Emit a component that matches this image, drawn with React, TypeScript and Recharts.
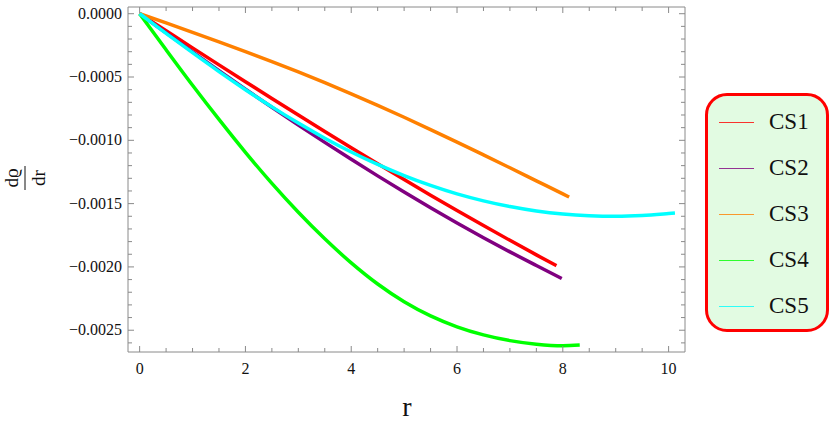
import { LineChart, Line, XAxis, YAxis, Legend } from 'recharts';

// r values and d(rho)/dr values
const cs1R = [0, 0.5, 1, 1.5, 2, 2.5, 3, 3.5, 4, 4.5, 5, 5.5, 6, 6.5, 7, 7.5, 7.88];
const cs1Values = [0, -0.000135, -0.00027, -0.000404, -0.000537, -0.000669, -0.0008, -0.00093, -0.001058, -0.001185, -0.00131, -0.001433, -0.001554, -0.001673, -0.00179, -0.001905, -0.00199];

const cs2R = [0, 0.5, 1, 1.5, 2, 2.5, 3, 3.5, 4, 4.5, 5, 5.5, 6, 6.5, 7, 7.5, 7.98];
const cs2Values = [0, -0.000152, -0.000302, -0.00045, -0.000596, -0.000739, -0.000879, -0.001016, -0.00115, -0.001281, -0.001409, -0.001533, -0.001653, -0.001769, -0.001881, -0.001989, -0.002091];

const cs3R = [0, 0.5, 1, 1.5, 2, 2.5, 3, 3.5, 4, 4.5, 5, 5.5, 6, 6.5, 7, 7.5, 8, 8.12];
const cs3Values = [0, -0.000073, -0.000147, -0.000222, -0.000299, -0.000378, -0.00046, -0.000545, -0.000633, -0.000724, -0.000818, -0.000915, -0.001014, -0.001115, -0.001217, -0.00132, -0.001423, -0.001448];

const cs4R = [0, 0.5, 1, 1.5, 2, 2.5, 3, 3.5, 4, 4.5, 5, 5.5, 6, 6.5, 7, 7.5, 8, 8.32];
const cs4Values = [0, -0.000285, -0.000565, -0.000835, -0.001095, -0.00134, -0.001568, -0.001778, -0.001968, -0.002135, -0.002275, -0.002387, -0.002473, -0.002537, -0.002582, -0.00261, -0.002622, -0.002617];

const cs5R = [0, 0.5, 1, 1.5, 2, 2.5, 3, 3.5, 4, 4.5, 5, 5.5, 6, 6.5, 7, 7.5, 8, 8.5, 9, 9.5, 10, 10.12];
const cs5Values = [0, -0.000155, -0.000308, -0.000457, -0.0006, -0.000736, -0.000864, -0.000983, -0.001092, -0.00119, -0.001278, -0.001356, -0.001423, -0.001478, -0.001523, -0.001558, -0.001582, -0.001595, -0.001599, -0.001593, -0.001578, -0.001574];

const seriesNames = ['CS1', 'CS2', 'CS3', 'CS4', 'CS5'];
const seriesColors = ['#ff0000', '#800080', '#ff8000', '#00ff00', '#00ffff'];

const xMajorTicks = [0, 2, 4, 6, 8, 10];
const yMajorTicks = [0, -0.0005, -0.001, -0.0015, -0.002, -0.0025];
const xMajorLabels = ['0', '2', '4', '6', '8', '10'];
const yMajorLabels = ['0.0000', '\u22120.0005', '\u22120.0010', '\u22120.0015', '\u22120.0020', '\u22120.0025'];

// minor ticks every 0.5 on r and every 0.0001 on the derivative
const xTicks = Array.from({ length: 21 }, (_, i) => i * 0.5);
const yTicks = Array.from({ length: 27 }, (_, i) => -i * 0.0001);

const toPoints = (r: number[], v: number[]) => r.map((x, i) => ({ r: x, v: v[i] }));
const seriesData = [
  toPoints(cs1R, cs1Values),
  toPoints(cs2R, cs2Values),
  toPoints(cs3R, cs3Values),
  toPoints(cs4R, cs4Values),
  toPoints(cs5R, cs5Values),
];

const FONT = 'Liberation Serif, Times New Roman, DejaVu Serif, serif';
const FRAME = '#8a8a8a';

const isMajor = (value: number, majors: number[]) => majors.findIndex((m) => Math.abs(m - value) < 1e-9);

function makeXTick(side: 'bottom' | 'top') {
  return (props: any) => {
    const { x, y, payload } = props;
    const idx = isMajor(payload.value, xMajorTicks);
    const len = idx >= 0 ? 6 : 4;
    const dir = side === 'bottom' ? -1 : 1;
    return (
      <g>
        <line x1={x} y1={y} x2={x} y2={y + dir * len} stroke={FRAME} strokeWidth={1} />
        {side === 'bottom' && idx >= 0 && (
          <text x={x} y={y + 22} textAnchor="middle" style={{ fontSize: 16, fontFamily: FONT }} fill="#111">
            {xMajorLabels[idx]}
          </text>
        )}
      </g>
    );
  };
}

function makeYTick(side: 'left' | 'right') {
  return (props: any) => {
    const { x, y, payload } = props;
    const idx = isMajor(payload.value, yMajorTicks);
    const len = idx >= 0 ? 6 : 4;
    const dir = side === 'left' ? 1 : -1;
    return (
      <g>
        <line x1={x} y1={y} x2={x + dir * len} y2={y} stroke={FRAME} strokeWidth={1} />
        {side === 'left' && idx >= 0 && (
          <text x={x - 6} y={y + 5} textAnchor="end" style={{ fontSize: 16, fontFamily: FONT }} fill="#111">
            {yMajorLabels[idx]}
          </text>
        )}
      </g>
    );
  };
}

function YLabel() {
  return (
    <g transform="translate(25,178) rotate(-90)" fill="#111">
      <text x={0} y={-7} textAnchor="middle" style={{ fontSize: 19, fontFamily: FONT }}>
        d&#x03F1;
      </text>
      <line x1={-12} y1={0} x2={12} y2={0} stroke="#111" strokeWidth={1} />
      <text x={0} y={20} textAnchor="middle" style={{ fontSize: 19, fontFamily: FONT }}>
        dr
      </text>
    </g>
  );
}

function XLabel() {
  return (
    <text x={407} y={416} textAnchor="middle" fill="#111" style={{ fontSize: 28, fontFamily: FONT }}>
      r
    </text>
  );
}

function LegendBox() {
  return (
    <div
      style={{
        boxSizing: 'border-box',
        width: 124,
        height: 239,
        border: '3px solid #ff0000',
        borderRadius: 22,
        background: '#e2fbe2',
        position: 'relative',
        fontFamily: FONT,
      }}
    >
      {seriesNames.map((name, i) => (
        <div
          key={name}
          style={{ position: 'absolute', left: 11, top: 11 + i * 46, height: 30, display: 'flex', alignItems: 'center' }}
        >
          <div style={{ width: 35, height: 1, background: seriesColors[i], opacity: 0.8 }} />
          <span style={{ marginLeft: 15, fontSize: 23, color: '#111', fontFamily: FONT }}>{name}</span>
        </div>
      ))}
    </div>
  );
}

export default function App() {
  return (
    <div style={{ position: 'absolute', left: 0, top: 0, width: 830, height: 426, background: 'white', fontFamily: FONT }}>
      <LineChart width={830} height={426} margin={{ top: 6, right: 144, bottom: 73, left: 127 }}>
        <XAxis
          xAxisId="bottom"
          dataKey="r"
          type="number"
          domain={[-0.22, 10.31]}
          ticks={xTicks}
          interval={0}
          height={1}
          tickSize={0}
          tickMargin={0}
          axisLine={{ stroke: FRAME }}
          tickLine={false}
          tick={makeXTick('bottom')}
          allowDataOverflow
          label={{ content: () => <XLabel /> }}
        />
        <XAxis
          xAxisId="top"
          orientation="top"
          dataKey="r"
          type="number"
          domain={[-0.22, 10.31]}
          ticks={xTicks}
          interval={0}
          height={1}
          tickSize={0}
          tickMargin={0}
          axisLine={{ stroke: FRAME }}
          tickLine={false}
          tick={makeXTick('top')}
          allowDataOverflow
        />
        <YAxis
          yAxisId="left"
          type="number"
          domain={[-0.002672, 0.000053]}
          ticks={yTicks}
          interval={0}
          width={1}
          tickSize={0}
          tickMargin={0}
          axisLine={{ stroke: FRAME }}
          tickLine={false}
          tick={makeYTick('left')}
          allowDataOverflow
          label={{ content: () => <YLabel /> }}
        />
        <YAxis
          yAxisId="right"
          orientation="right"
          type="number"
          domain={[-0.002672, 0.000053]}
          ticks={yTicks}
          interval={0}
          width={1}
          tickSize={0}
          tickMargin={0}
          axisLine={{ stroke: FRAME }}
          tickLine={false}
          tick={makeYTick('right')}
          allowDataOverflow
        />
        {seriesData.map((d, i) => (
          <Line
            key={seriesNames[i]}
            xAxisId="bottom"
            yAxisId="left"
            data={d}
            dataKey="v"
            name={seriesNames[i]}
            type="monotone"
            stroke={seriesColors[i]}
            strokeWidth={3.5}
            dot={false}
            isAnimationActive={false}
          />
        ))}
        <Legend
          layout="horizontal"
          verticalAlign="middle"
          align="center"
          content={() => <LegendBox />}
          wrapperStyle={{ left: 705, top: 93, width: 124, height: 239 }}
        />
      </LineChart>
    </div>
  );
}
